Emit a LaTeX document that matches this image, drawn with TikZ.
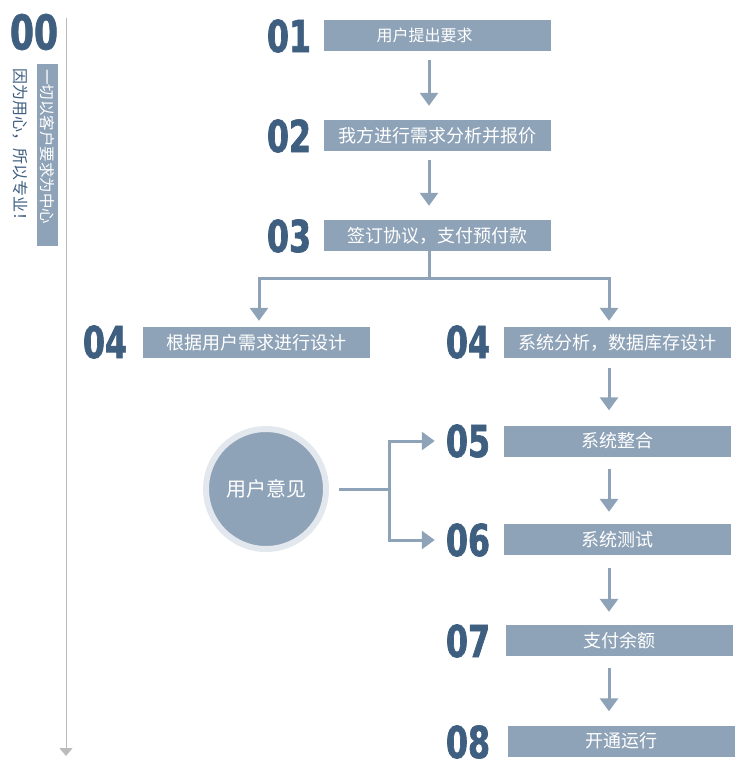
\documentclass[tikz,border=0pt]{standalone}
\usepackage{fontspec}
\setmainfont{Noto Sans CJK SC}
\newfontfamily\numfont[FakeStretch=0.72,FakeBold=1.5]{DejaVu Sans}
\usetikzlibrary{positioning,arrows.meta,calc}
\definecolor{boxblue}{HTML}{8FA3B8}
\definecolor{numblue}{HTML}{3F5F80}
\definecolor{ringgray}{HTML}{E2E8EE}
\definecolor{axisgray}{HTML}{BBBBBB}

\begin{document}
\begin{tikzpicture}[x=1pt,y=-1pt,>={Triangle[width=18pt,length=13pt]},
	stepbox/.style={fill=boxblue,text=white,minimum width=227pt,minimum height=31pt,inner sep=0pt,font=\fontsize{18}{18}\selectfont},
	num/.style={text=numblue,inner sep=0pt,font=\numfont\bfseries\fontsize{44}{44}\selectfont},
	line/.style={draw=boxblue,line width=3pt},
	flow/.style={line,->}]
\useasboundingbox (0,0) rectangle (741,772);

% left column
\coordinate (top) at (66,18);
\coordinate (bot) at (66,756);
\draw[axisgray,line width=1pt,-{Triangle[width=13pt,length=8pt]}] (top) -- (bot);
\node[num,font=\numfont\bfseries\fontsize{48}{48}\selectfont] (n0) at (34,32) {00};
\node[fill=boxblue,text=white,rotate=-90,minimum width=182pt,minimum height=21pt,
	text width=172pt,inner xsep=5pt,inner ysep=0pt,align=left,
	font=\fontsize{15.5}{15.5}\selectfont] (motto) at (47.5,155) {一切以客户要求为中心};
\node[rotate=-90,anchor=west,text=numblue,inner sep=0pt,
	font=\fontsize{16}{16}\selectfont] (slogan) at (20,68) {因为用心，所以专业！};

% steps
\node[num] (n1) at (289,36) {01};
\node[num] (n2) at (289,136) {02};
\node[num] (n3) at (289,236) {03};
\node[num] (n4l) at (105,342) {04};
\node[num] (n4r) at (468,342) {04};
\node[num] (n5) at (468,441) {05};
\node[num] (n6) at (468,540) {06};
\node[num] (n7) at (468,641) {07};
\node[num] (n8) at (468,742) {08};

\node[stepbox,font=\fontsize{16}{16}\selectfont] (b1) at (437.5,35.5) {\hspace*{-26pt}用户提出要求};
\node[stepbox] (b2) at (437.5,135.5) {我方进行需求分析并报价};
\node[stepbox] (b3) at (437.5,235.5) {签订协议，支付预付款};
\node[stepbox] (b4l) at (256,342.5) {根据用户需求进行设计};
\node[stepbox] (b4r) at (617.5,342.5) {系统分析，数据库存设计};
\node[stepbox] (b5) at (617.5,441) {系统整合};
\node[stepbox] (b6) at (617.5,539.5) {系统测试};
\node[stepbox] (b7) at (619.5,640.5) {支付余额};
\node[stepbox] (b8) at (621.5,741) {开通运行};

\draw[flow,shorten <=9pt,shorten >=14pt] ([xshift=-8.5pt]b1.south) -- ([xshift=-8.5pt]b2.north);
\draw[flow,shorten <=9pt,shorten >=14pt] ([xshift=-8.5pt]b2.south) -- ([xshift=-8.5pt]b3.north);

\coordinate (split) at (429,278);
\draw[line] ([xshift=-8.5pt]b3.south) -- (split);
\draw[flow,shorten >=6pt] (split) -| ([xshift=3pt]b4l.north);
\draw[flow,shorten >=6pt] (split) -| ([xshift=-8.5pt]b4r.north);

\draw[flow,shorten <=10pt,shorten >=15pt] ([xshift=-8.5pt]b4r.south) -- ([xshift=-8.5pt]b5.north);
\draw[flow,shorten <=12pt,shorten >=12pt] ([xshift=-8.5pt]b5.south) -- ([xshift=-8.5pt]b6.north);
\draw[flow,shorten <=13pt,shorten >=13pt] ([xshift=-8.5pt]b6.south) -- ([xshift=-10.5pt]b7.north);
\draw[flow,shorten <=12pt,shorten >=14pt] ([xshift=-10.5pt]b7.south) -- ([xshift=-12.5pt]b8.north);

% feedback
\node[circle,fill=boxblue,draw=ringgray,line width=6pt,minimum size=120pt,text=white,
	font=\fontsize{20}{20}\selectfont] (fb) at (266,489) {用户意见};
\draw[line] ([xshift=10pt]fb.east) -- ++(50,0) coordinate (fork);
\draw[flow,shorten >=11pt] (fork) |- (n5.west);
\draw[flow,shorten >=11pt] (fork) |- (n6.west);
\end{tikzpicture}
\end{document}
